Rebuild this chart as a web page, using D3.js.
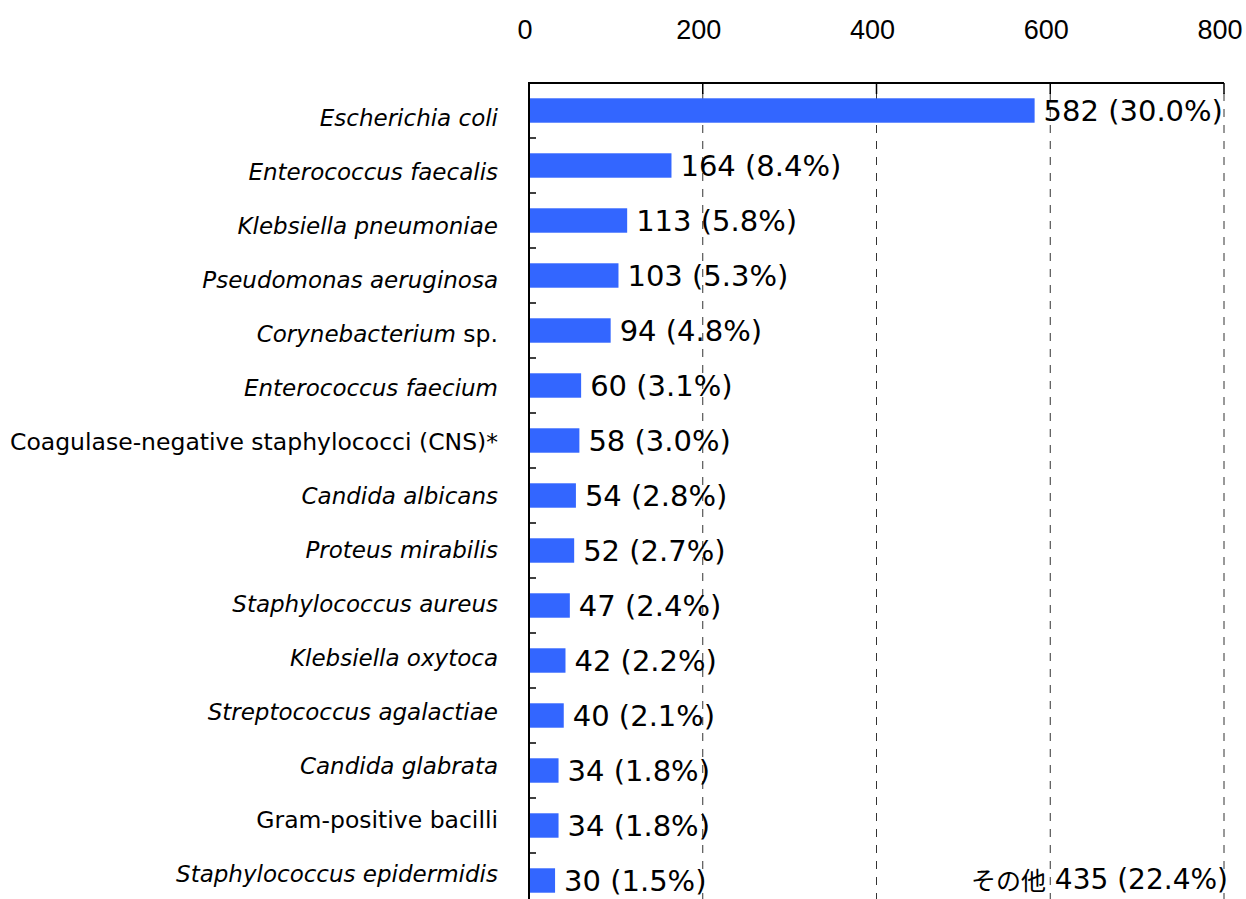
<!DOCTYPE html>
<html>
<head>
<meta charset="utf-8">
<script src="https://cdn.jsdelivr.net/npm/d3@7"></script>
<style>
  html, body { margin: 0; padding: 0; background: #fff; }
  svg { display: block; }
</style>
</head>
<body>
<svg id="chart" width="1246" height="899"></svg>
<script>
// ---- data ----
const categories = [
  "Escherichia coli",
  "Enterococcus faecalis",
  "Klebsiella pneumoniae",
  "Pseudomonas aeruginosa",
  "Corynebacterium sp.",
  "Enterococcus faecium",
  "Coagulase-negative staphylococci (CNS)*",
  "Candida albicans",
  "Proteus mirabilis",
  "Staphylococcus aureus",
  "Klebsiella oxytoca",
  "Streptococcus agalactiae",
  "Candida glabrata",
  "Gram-positive bacilli",
  "Staphylococcus epidermidis"
];
// italic part of each label, and roman remainder
const italicParts = [
  "Escherichia coli", "Enterococcus faecalis", "Klebsiella pneumoniae",
  "Pseudomonas aeruginosa", "Corynebacterium", "Enterococcus faecium",
  "", "Candida albicans", "Proteus mirabilis", "Staphylococcus aureus",
  "Klebsiella oxytoca", "Streptococcus agalactiae", "Candida glabrata",
  "", "Staphylococcus epidermidis"
];
const romanParts = [
  "", "", "", "", " sp.", "",
  "Coagulase-negative staphylococci (CNS)*", "", "", "", "", "", "",
  "Gram-positive bacilli", ""
];
const counts   = [582, 164, 113, 103, 94, 60, 58, 54, 52, 47, 42, 40, 34, 34, 30];
const percents = ["30.0", "8.4", "5.8", "5.3", "4.8", "3.1", "3.0", "2.8", "2.7", "2.4", "2.2", "2.1", "1.8", "1.8", "1.5"];
const xTicks = [0, 200, 400, 600, 800];
const otherLabel = "その他";
const otherCount = 435;
const otherPercent = "22.4";

// ---- layout ----
const plotLeft = 529, plotRight = 1224, plotTop = 83, plotBottom = 908;
const svg = d3.select("#chart");

const x = d3.scaleLinear().domain([0, 800]).range([plotLeft, plotRight]);
const y = d3.scaleBand().domain(categories).range([plotTop, plotBottom])
  .paddingInner(0.556).paddingOuter(0.278);
const step = y.step();
// category label rows (slightly tighter spacing than the bars, as in the reference)
const yLabel = d3.scaleBand().domain(categories).range([91, 901])
  .paddingInner(0.556).paddingOuter(0.278);

const fontLatin = "'DejaVu Sans', Verdana, sans-serif";

// gridlines (dashed) and top ticks (solid)
const grid = svg.append("g");
xTicks.filter(t => t > 0).forEach(t => {
  grid.append("line")
    .attr("x1", x(t)).attr("x2", x(t))
    .attr("y1", plotTop + 10).attr("y2", plotBottom)
    .attr("stroke", "#333").attr("stroke-width", 1)
    .attr("stroke-dasharray", "8,8");
  grid.append("line")
    .attr("x1", x(t)).attr("x2", x(t))
    .attr("y1", plotTop).attr("y2", plotTop + 11)
    .attr("stroke", "#000").attr("stroke-width", 1.5);
});

// top axis labels
svg.append("g").selectAll("text").data(xTicks).join("text")
  .attr("x", d => x(d) - 4)
  .attr("y", 30)
  .attr("text-anchor", "middle")
  .attr("dominant-baseline", "central")
  .attr("font-family", "'Liberation Sans', Arial, sans-serif")
  .attr("font-size", 27)
  .attr("fill", "#000")
  .text(d => d);

// bars
svg.append("g").selectAll("rect").data(categories).join("rect")
  .attr("x", x(0))
  .attr("y", d => y(d))
  .attr("width", (d, i) => x(counts[i]) - x(0))
  .attr("height", y.bandwidth())
  .attr("fill", "#3366FF");

// value labels
svg.append("g").selectAll("text").data(categories).join("text")
  .attr("x", (d, i) => x(counts[i]) + 9)
  .attr("y", d => y(d) + y.bandwidth() / 2)
  .attr("dominant-baseline", "central")
  .attr("font-family", fontLatin)
  .attr("font-size", 29)
  .attr("fill", "#000")
  .text((d, i) => `${counts[i]} (${percents[i]}%)`);

// "other" label
const lastCat = categories[categories.length - 1];
const other = svg.append("text")
  .attr("x", 1228)
  .attr("y", y(lastCat) + y.bandwidth() / 2 - 2)
  .attr("text-anchor", "end")
  .attr("dominant-baseline", "central")
  .attr("font-family", "'DejaVu Sans', 'Noto Sans CJK JP', sans-serif")
  .attr("font-size", 28)
  .attr("fill", "#000");
other.append("tspan")
  .attr("font-family", "'Noto Sans CJK JP', sans-serif")
  .attr("font-size", 25)
  .text(otherLabel);
other.append("tspan").text(` ${otherCount} (${otherPercent}%)`);

// category labels
const catG = svg.append("g");
categories.forEach((c, i) => {
  const t = catG.append("text")
    .attr("x", plotLeft - 31)
    .attr("y", yLabel(c) + yLabel.bandwidth() / 2)
    .attr("text-anchor", "end")
    .attr("dominant-baseline", "central")
    .attr("font-family", fontLatin)
    .attr("font-size", 23.5)
    .attr("fill", "#000");
  if (italicParts[i]) t.append("tspan").attr("font-style", "italic").attr("font-size", 23).text(italicParts[i]);
  if (romanParts[i]) t.append("tspan").text(romanParts[i]);
});

// category ticks at band boundaries
svg.append("g").selectAll("line").data(categories.slice(1).concat(["__end"])).join("line")
  .attr("x1", plotLeft).attr("x2", plotLeft + 7)
  .attr("y1", (d, i) => plotTop + step * (i + 1))
  .attr("y2", (d, i) => plotTop + step * (i + 1))
  .attr("stroke", "#000").attr("stroke-width", 1.5);

// top line and left axis line
svg.append("line")
  .attr("x1", plotLeft).attr("x2", plotRight)
  .attr("y1", plotTop).attr("y2", plotTop)
  .attr("stroke", "#000").attr("stroke-width", 2);
svg.append("line")
  .attr("x1", plotLeft).attr("x2", plotLeft)
  .attr("y1", plotTop - 1).attr("y2", plotBottom)
  .attr("stroke", "#000").attr("stroke-width", 2);
</script>
</body>
</html>
